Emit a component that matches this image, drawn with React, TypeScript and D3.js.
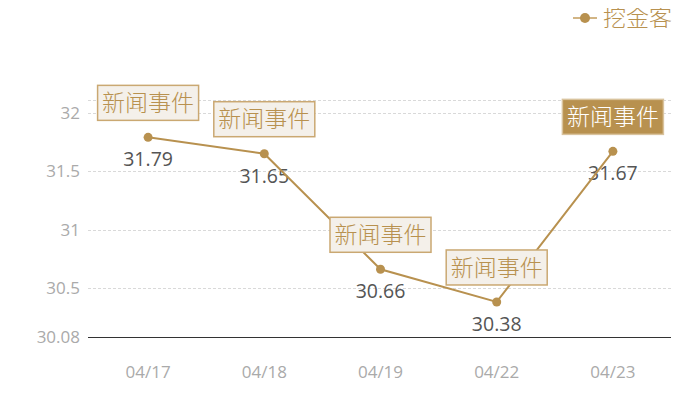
import React, { useRef, useEffect } from 'react';
import * as d3 from 'd3';

const dates = ['04/17', '04/18', '04/19', '04/22', '04/23'];
const prices = [31.79, 31.65, 30.66, 30.38, 31.67];
const eventLabels = ['新闻事件', '新闻事件', '新闻事件', '新闻事件', '新闻事件'];
const highlighted = [false, false, false, false, true];
const yTicks = [30.08, 30.5, 31, 31.5, 32];
const seriesName = '挖金客';

const W = 700;
const H = 400;
const FONT = '"Open Sans", "Noto Sans CJK SC", sans-serif';
const CJK = '"Noto Sans CJK SC", sans-serif';
const GOLD = '#b8914f';

const App: React.FC = () => {
  const svgRef = useRef<SVGSVGElement>(null);

  useEffect(() => {
    if (!svgRef.current) return;
    const svg = d3.select(svgRef.current);
    svg.selectAll('*').remove();

    const margin = { top: 100, right: 29, bottom: 63, left: 90 };
    const x = d3.scaleBand<string>()
      .domain(dates)
      .range([margin.left, W - margin.right]);
    const y = d3.scaleLinear()
      .domain([30.08, 32.11])
      .range([H - margin.bottom, margin.top]);
    const cx = (d: string) => (x(d) ?? 0) + x.bandwidth() / 2;

    // grid
    const gridVals = [32.11, ...yTicks.slice(1)];
    svg.append('g')
      .selectAll('line')
      .data(gridVals)
      .join('line')
      .attr('x1', margin.left - 2)
      .attr('x2', W - margin.right)
      .attr('y1', d => Math.round(y(d)) + 0.5)
      .attr('y2', d => Math.round(y(d)) + 0.5)
      .attr('stroke', '#d9d9d9')
      .attr('stroke-dasharray', '3,2');

    // baseline axis
    svg.append('line')
      .attr('x1', margin.left - 2)
      .attr('x2', W - margin.right)
      .attr('y1', Math.round(y(30.08)) + 0.5)
      .attr('y2', Math.round(y(30.08)) + 0.5)
      .attr('stroke', '#333')
      .attr('stroke-width', 1);

    // y tick labels
    svg.append('g')
      .selectAll('text')
      .data(yTicks)
      .join('text')
      .attr('x', 80)
      .attr('y', d => y(d))
      .attr('dy', '0.35em')
      .attr('text-anchor', 'end')
      .attr('fill', '#aaa')
      .style('font-family', FONT)
      .style('font-size', '17px')
      .text(d => String(d));

    // x tick labels
    svg.append('g')
      .selectAll('text')
      .data(dates)
      .join('text')
      .attr('x', d => cx(d))
      .attr('y', 372)
      .attr('dy', '0.35em')
      .attr('text-anchor', 'middle')
      .attr('fill', '#aaa')
      .style('font-family', FONT)
      .style('font-size', '17px')
      .text(d => d);

    const pts = dates.map((d, i) => ({ d, v: prices[i], i }));

    // value labels
    svg.append('g')
      .selectAll('text')
      .data(pts)
      .join('text')
      .attr('x', p => cx(p.d))
      .attr('y', p => y(p.v) + 22)
      .attr('dy', '0.35em')
      .attr('text-anchor', 'middle')
      .attr('fill', '#555')
      .style('font-family', FONT)
      .style('font-size', '19.5px')
      .text(p => p.v.toFixed(2));

    // line
    const line = d3.line<{ d: string; v: number }>()
      .x(p => cx(p.d))
      .y(p => y(p.v));
    svg.append('path')
      .datum(pts)
      .attr('fill', 'none')
      .attr('stroke', GOLD)
      .attr('stroke-width', 2)
      .attr('d', line);

    svg.append('g')
      .selectAll('circle')
      .data(pts)
      .join('circle')
      .attr('cx', p => cx(p.d))
      .attr('cy', p => y(p.v))
      .attr('r', 4.5)
      .attr('fill', GOLD);

    // event boxes
    const boxW = 101;
    const boxH = 35;
    const ev = svg.append('g')
      .selectAll('g')
      .data(pts)
      .join('g')
      .attr('transform', p => `translate(${cx(p.d)},${y(p.v) - 17 - boxH / 2})`);
    ev.append('rect')
      .attr('x', -boxW / 2)
      .attr('y', -boxH / 2)
      .attr('width', boxW)
      .attr('height', boxH)
      .attr('fill', p => highlighted[p.i] ? GOLD : '#f4f0ea')
      .attr('stroke', p => highlighted[p.i] ? '#d9c39d' : '#caa872')
      .attr('stroke-width', 1.5);
    ev.append('text')
      .attr('text-anchor', 'middle')
      .attr('dy', '0.36em')
      .attr('fill', p => highlighted[p.i] ? '#fff' : GOLD)
      .style('font-family', CJK)
      .style('font-size', '23px')
      .style('font-weight', 300)
      .text(p => eventLabels[p.i]);

    // legend
    const lg = svg.append('g').attr('transform', 'translate(573,18)');
    lg.append('line')
      .attr('x1', 0).attr('x2', 24)
      .attr('stroke', '#d2b585')
      .attr('stroke-width', 2);
    lg.append('circle').attr('cx', 12).attr('r', 5).attr('fill', GOLD);
    lg.append('text')
      .attr('x', 30)
      .attr('dy', '0.36em')
      .attr('fill', GOLD)
      .style('font-family', CJK)
      .style('font-size', '23px')
      .style('font-weight', 300)
      .text(seriesName);
  }, []);

  return <svg ref={svgRef} width={W} height={H} style={{ display: 'block', margin: -8 }} />;
};

export default App;
